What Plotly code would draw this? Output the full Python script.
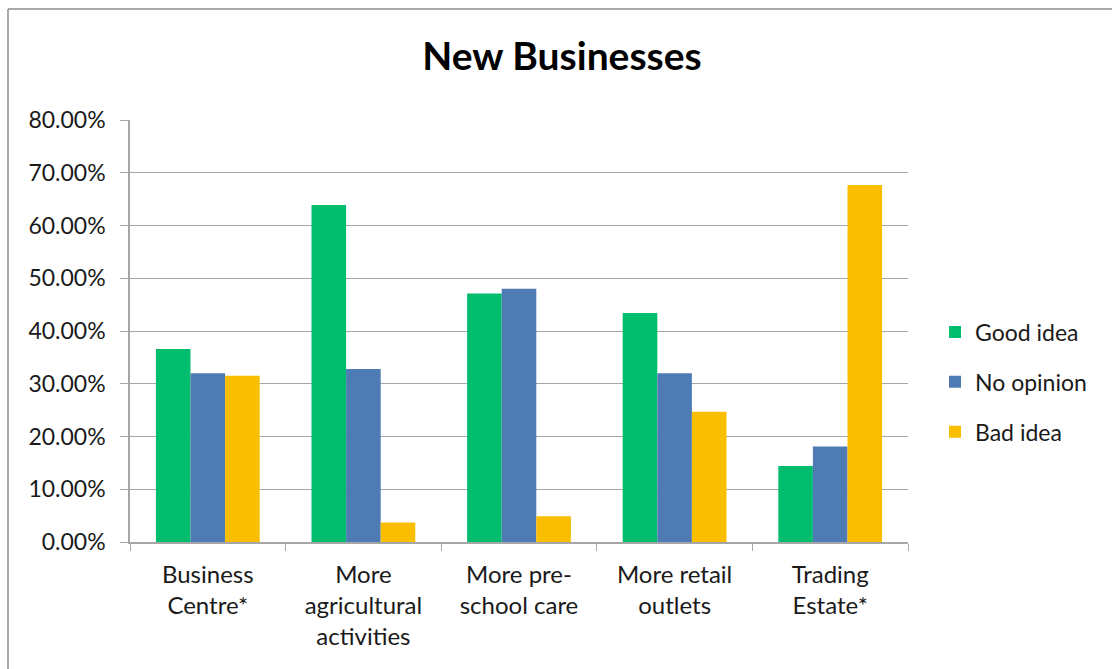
import plotly.graph_objects as go

categories = [
    "Business<br>Centre*",
    "More<br>agricultural<br>activities",
    "More pre-<br>school care",
    "More retail<br>outlets",
    "Trading<br>Estate*",
]
good_idea = [0.366, 0.639, 0.471, 0.434, 0.144]
no_opinion = [0.320, 0.328, 0.480, 0.320, 0.181]
bad_idea = [0.315, 0.037, 0.049, 0.247, 0.677]

series = [
    ("Good idea", good_idea, "#00BE6E"),
    ("No opinion", no_opinion, "#4F7BB5"),
    ("Bad idea", bad_idea, "#F9BE00"),
]

fig = go.Figure()
for name, vals, color in series:
    fig.add_trace(go.Bar(
        x=categories, y=vals, name=name, legendgroup=name,
        marker=dict(color=color, line=dict(width=0)),
    ))

W, H = 1112, 669
ml, mr, mt, mb = 130, 204, 120, 127
pw, ph = W - ml - mr, H - mt - mb

def px_x(p):
    return (p - ml) / pw

def px_y(p):
    return (H - mb - p) / ph

grid = "#A6A6A6"
frame = "#8C8C8C"
fig.update_layout(
    width=W, height=H,
    margin=dict(l=ml, r=mr, t=mt, b=mb),
    paper_bgcolor="white", plot_bgcolor="white",
    font=dict(family="Lato, Carlito, sans-serif", color="#1A1A1A", size=22),
    title=dict(text="<b>New Businesses</b>", x=562 / W, xanchor="center",
               y=1 - 56 / H, yanchor="middle",
               font=dict(size=39, family="Lato, sans-serif", color="#000000")),
    barmode="group", bargap=0.333, bargroupgap=0,
    showlegend=True,
    legend=dict(x=px_x(935), y=px_y(382), xanchor="left", yanchor="middle",
                font=dict(size=23), itemwidth=30, tracegroupgap=17,
                bgcolor="rgba(0,0,0,0)"),
    xaxis=dict(
        showline=True, linecolor=grid, linewidth=1.5,
        ticks="outside", tickson="boundaries", ticklen=7, tickcolor=grid,
        tickfont=dict(size=24), showgrid=False, ticklabelstandoff=10,
    ),
    yaxis=dict(
        range=[0, 0.8], dtick=0.1, tickformat=".2%",
        showline=True, linecolor=grid, linewidth=1.5,
        ticks="outside", ticklen=8, tickcolor=grid,
        showgrid=True, gridcolor=grid, gridwidth=1.2,
        tickfont=dict(size=23), zeroline=False, ticklabelstandoff=10,
    ),
    shapes=[
        # chart frame: top and left edges
        dict(type="line", xref="paper", yref="paper",
             x0=px_x(8), x1=px_x(W + 5), y0=px_y(9), y1=px_y(9),
             line=dict(color=frame, width=1.5)),
        dict(type="line", xref="paper", yref="paper",
             x0=px_x(8), x1=px_x(8), y0=px_y(9), y1=px_y(H + 5),
             line=dict(color=frame, width=1.5)),
    ],
)

fig.write_html("out.html")
